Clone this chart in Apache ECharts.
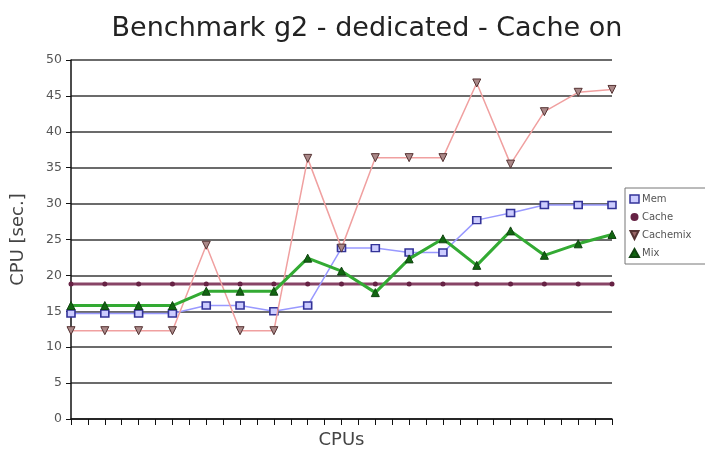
<!DOCTYPE html>
<html>
<head>
<meta charset="utf-8">
<script src="https://cdn.jsdelivr.net/npm/echarts@6/dist/echarts.min.js"></script>
<style>
  html, body { margin: 0; padding: 0; background: #fff; }
  #chart { width: 705px; height: 454px; }
</style>
</head>
<body>
<div id="chart"></div>
<script>
// Run positions along the CPU axis (one per measurement)
const cpuSteps = [0, 1, 2, 3, 4, 5, 6, 7, 8, 9, 10, 11, 12, 13, 14, 15, 16];

// CPU time in seconds per run
const memValues      = [14.7, 14.7, 14.7, 14.7, 15.8, 15.8, 15.0, 15.8, 23.8, 23.8, 23.2, 23.2, 27.7, 28.7, 29.8, 29.8, 29.8];
const cacheValues    = [18.8, 18.8, 18.8, 18.8, 18.8, 18.8, 18.8, 18.8, 18.8, 18.8, 18.8, 18.8, 18.8, 18.8, 18.8, 18.8, 18.8];
const cachemixValues = [12.3, 12.3, 12.3, 12.3, 24.2, 12.3, 12.3, 36.3, 23.8, 36.4, 36.4, 36.4, 46.8, 35.5, 42.8, 45.5, 45.9];
const mixValues      = [15.8, 15.8, 15.8, 15.8, 17.8, 17.8, 17.8, 22.4, 20.6, 17.6, 22.3, 25.1, 21.4, 26.2, 22.8, 24.4, 25.7];

const seriesNames = ['Mem', 'Cache', 'Cachemix', 'Mix'];
const yTicks = [0, 5, 10, 15, 20, 25, 30, 35, 40, 45, 50];

const pair = vals => cpuSteps.map((x, i) => [x, vals[i]]);
const FONT = 'DejaVu Sans';
const downTriangle = 'path://M0,0 L10,0 L5,10 Z';

const chart = echarts.init(document.getElementById('chart'), null, { renderer: 'canvas' });
chart.setOption({
  animation: false,
  backgroundColor: '#fff',
  title: {
    text: 'Benchmark g2 - dedicated - Cache on',
    left: 362, textAlign: 'center', top: 10,
    textStyle: { fontFamily: FONT, fontSize: 27, fontWeight: 'normal', color: '#222' }
  },
  legend: {
    orient: 'vertical',
    left: 625, top: 188,
    padding: [6, 30, 6, 4],
    itemGap: 8,
    itemWidth: 9, itemHeight: 8,
    borderColor: '#777', borderWidth: 1,
    textStyle: { fontFamily: FONT, fontSize: 10, color: '#555', padding: [0, 0, 0, -2] },
    data: [
      { name: seriesNames[0], icon: 'rect', itemStyle: { color: '#ccccff', borderColor: '#333399', borderWidth: 1.5 } },
      { name: seriesNames[1], icon: 'circle', itemStyle: { color: '#662244' } },
      { name: seriesNames[2], icon: downTriangle, itemStyle: { color: '#996666' } },
      { name: seriesNames[3], icon: 'triangle', itemStyle: { color: '#116611' } }
    ]
  },
  grid: { left: 71, right: 93, top: 60, bottom: 34, containLabel: false },
  xAxis: {
    type: 'value', min: 0, max: 16, interval: 0.5,
    name: 'CPUs', nameLocation: 'middle', nameGap: 12,
    nameTextStyle: { fontFamily: FONT, fontSize: 18, color: '#444' },
    axisLine: { lineStyle: { color: '#111', width: 1.5 } },
    axisTick: { show: true, length: 6, lineStyle: { color: '#111', width: 1 } },
    axisLabel: { show: false },
    splitLine: { show: false }
  },
  yAxis: {
    type: 'value', min: yTicks[0], max: yTicks[yTicks.length - 1], interval: 5,
    name: 'CPU [sec.]', nameLocation: 'middle', nameGap: 44, nameRotate: 90,
    nameTextStyle: { fontFamily: FONT, fontSize: 18, color: '#444' },
    axisLine: { show: true, lineStyle: { color: '#111', width: 1.5 } },
    axisTick: { show: true, length: 5, lineStyle: { color: '#111' } },
    axisLabel: { fontFamily: FONT, fontSize: 12.5, color: '#555', margin: 9 },
    splitLine: { show: true, lineStyle: { color: '#3a3a3a', width: 1.5 } }
  },
  series: [
    {
      name: seriesNames[0], type: 'line', data: pair(memValues),
      symbol: 'rect', symbolSize: [8, 7],
      lineStyle: { color: '#9999ff', width: 1.5 },
      itemStyle: { color: '#ccccff', borderColor: '#333399', borderWidth: 1.5 },
      z: 3
    },
    {
      name: seriesNames[1], type: 'line', data: pair(cacheValues),
      symbol: 'circle', symbolSize: 5,
      lineStyle: { color: '#884466', width: 3 },
      itemStyle: { color: '#662244', borderWidth: 0 },
      z: 2
    },
    {
      name: seriesNames[2], type: 'line', data: pair(cachemixValues),
      symbol: 'triangle', symbolRotate: 180, symbolSize: 8,
      lineStyle: { color: '#f0a0a0', width: 1.5 },
      itemStyle: { color: '#aa8888', borderColor: '#553333', borderWidth: 1 },
      z: 4
    },
    {
      name: seriesNames[3], type: 'line', data: pair(mixValues),
      symbol: 'triangle', symbolSize: 8,
      lineStyle: { color: '#33aa33', width: 3 },
      itemStyle: { color: '#116611', borderColor: '#114411', borderWidth: 1 },
      z: 5
    }
  ]
});
</script>
</body>
</html>
